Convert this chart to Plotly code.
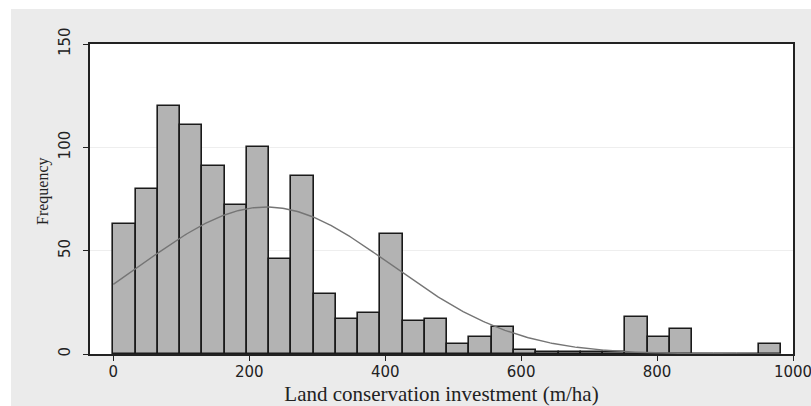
import numpy as np
import plotly.graph_objects as go

# Land conservation investment: 30 equal-width bins starting at 0
bin_start = 0.0
bin_width = 32.75
frequency = [63, 80, 120, 111, 91, 72, 100, 46, 86, 29,
             17, 20, 58, 16, 17, 5, 8, 13, 2, 1,
             1, 1, 1, 18, 8, 12, 0, 0, 0, 5]
x_ticks = [0, 200, 400, 600, 800, 1000]
y_ticks = [0, 50, 100, 150]

counts = np.array(frequency, dtype=float)
edges = bin_start + bin_width * np.arange(len(counts) + 1)
centers = (edges[:-1] + edges[1:]) / 2

# Normal curve with the sample mean and SD, scaled to frequency units
n = counts.sum()
mean = (counts * centers).sum() / n
sd = np.sqrt((counts * (centers - mean) ** 2).sum() / n)
xs = np.linspace(edges[0], edges[-1], 400)
normal = n * bin_width * np.exp(-0.5 * ((xs - mean) / sd) ** 2) / (sd * np.sqrt(2 * np.pi))

W, H = 811, 406
L, R, T, B = 90, 18, 44, 52
pw, ph = W - L - R, H - T - B


def px_x(p):
    return (p - L) / pw


def px_y(p):
    return (H - B - p) / ph


fig = go.Figure()
fig.add_trace(go.Bar(
    x=centers, y=counts, width=bin_width,
    marker=dict(color="#b3b3b3", line=dict(color="#1a1a1a", width=1.6)),
    hoverinfo="skip",
))
fig.add_trace(go.Scatter(
    x=xs, y=normal, mode="lines",
    line=dict(color="#757575", width=1.4),
    hoverinfo="skip",
))

fig.update_layout(
    template="none",
    width=W, height=H,
    margin=dict(l=L, r=R, t=T, b=B, pad=0),
    paper_bgcolor="#ebebeb",
    plot_bgcolor="white",
    showlegend=False,
    bargap=0,
    shapes=[
        # white frame strip along the left and top edges of the page
        dict(type="rect", xref="paper", yref="paper",
             x0=px_x(0), x1=px_x(11), y0=px_y(H), y1=px_y(0),
             fillcolor="white", line=dict(width=0), layer="below"),
        dict(type="rect", xref="paper", yref="paper",
             x0=px_x(0), x1=px_x(W), y0=px_y(9), y1=px_y(0),
             fillcolor="white", line=dict(width=0), layer="below"),
    ],
    annotations=[
        dict(text="Frequency", textangle=-90, xref="paper", yref="paper",
             x=px_x(43), y=px_y(191), xanchor="center", yanchor="middle",
             showarrow=False,
             font=dict(family="Liberation Serif", size=16, color="#222")),
    ],
)

fig.update_xaxes(
    range=[-34.3, 1000], tickvals=x_ticks, ticktext=[str(v) for v in x_ticks],
    ticklabeloverflow="allow", ticklabelstandoff=-2,
    ticks="outside", ticklen=5, tickwidth=1.3, tickcolor="#222",
    showline=True, linecolor="#222", linewidth=1.5, mirror=True,
    showgrid=False, zeroline=False, automargin=False,
    tickfont=dict(family="DejaVu Sans", size=15, color="#222"),
    title=dict(text="Land conservation investment (m/ha)",
               font=dict(family="Liberation Serif", size=21, color="#222"),
               standoff=8),
)
fig.update_yaxes(
    range=[0, 150], tickvals=y_ticks, ticktext=[str(v) for v in y_ticks],
    tickangle=-90, ticklabelstandoff=7,
    ticks="outside", ticklen=5, tickwidth=1.3, tickcolor="#222",
    showline=True, linecolor="#222", linewidth=1.5, mirror=True,
    showgrid=True, gridcolor="#eeeeee", gridwidth=1,
    zeroline=False, automargin=False,
    tickfont=dict(family="DejaVu Sans", size=15, color="#222"),
)

fig.write_html("out.html")
